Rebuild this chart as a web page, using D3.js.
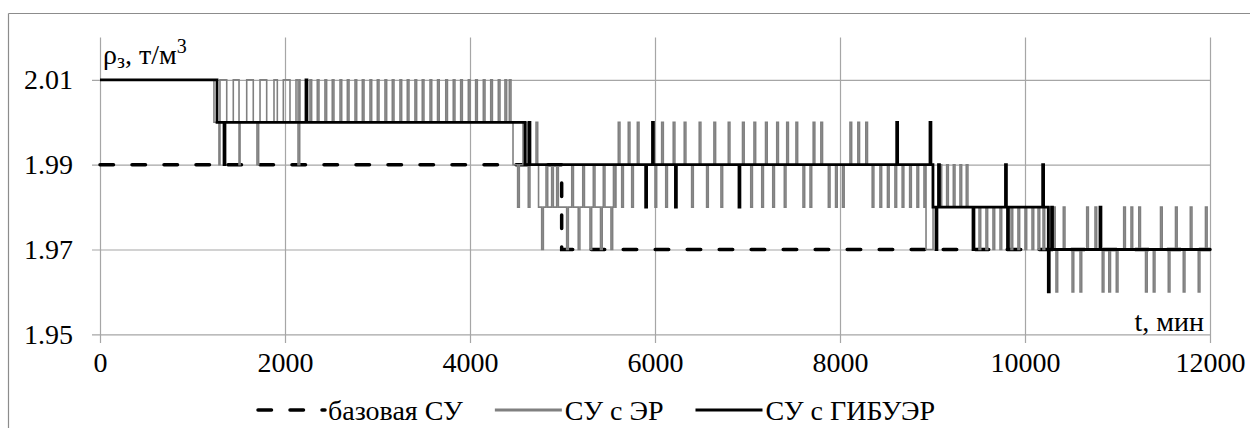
<!DOCTYPE html>
<html>
<head>
<meta charset="utf-8">
<script src="https://cdn.jsdelivr.net/npm/d3@7"></script>
<style>
  body { margin: 0; background: #fff; }
</style>
</head>
<body>
<div class="htmlcontainer"></div>
<script>
// chart size
var width  = 1250;
var height = 428;

// axes
var xTicks  = [0, 2000, 4000, 6000, 8000, 10000, 12000];
var yTicks  = [1.95, 1.97, 1.99, 2.01];
var yDomain = [1.95, 2.02];
var seriesNames = ["базовая СУ", "СУ с ЭР", "СУ с ГИБУЭР"];

// базовая СУ : [t, level] where level changes
var baseSteps = [[0, 1.99], [4991, 1.97]];

// СУ с ЭР : level changes
var erSteps = [
  [0, 2.01], [1232, 2.00], [1297, 2.01], [1370, 2.00], [1441, 2.01], [1514, 2.00],
  [1586, 2.01], [1657, 2.00], [1730, 2.01], [1802, 2.00], [1881, 2.01], [1917, 2.00],
  [1982, 2.01], [2054, 2.00], [2119, 2.01], [2162, 2.00], [4465, 1.99], [4573, 2.00],
  [4616, 1.99], [4741, 1.98], [5578, 1.99], [8930, 1.97], [9006, 1.98], [10260, 1.97]
];
// СУ с ЭР : short pulses [t, level]
var erPulses = [
  [1286, 1.99], [1503, 1.99], [1697, 1.99], [2141, 1.99],
  [2270, 2.01], [2349, 2.01], [2432, 2.01], [2511, 2.01], [2595, 2.01], [2674, 2.01],
  [2757, 2.01], [2836, 2.01], [2919, 2.01], [2998, 2.01], [3081, 2.01], [3160, 2.01],
  [3243, 2.01], [3322, 2.01], [3405, 2.01], [3484, 2.01], [3568, 2.01], [3649, 2.01],
  [3738, 2.01], [3819, 2.01], [3899, 2.01], [3982, 2.01], [4061, 2.01], [4144, 2.01],
  [4224, 2.01], [4306, 2.01], [4378, 2.01], [4425, 2.01],
  [4515, 1.98], [4630, 1.98], [4714, 2.00],
  [4775, 1.97], [4822, 1.99], [4883, 1.99], [4937, 1.99], [5045, 1.97], [5100, 1.99],
  [5170, 1.97], [5219, 1.99], [5297, 1.97], [5333, 1.99], [5411, 1.97], [5441, 1.99],
  [5524, 1.97], [5551, 1.99],
  [5603, 2.00], [5711, 2.00], [5809, 2.00], [6072, 2.00], [6197, 2.00], [6316, 2.00],
  [6478, 2.00], [6637, 2.00], [6792, 2.00], [6946, 2.00], [7070, 2.00], [7195, 2.00],
  [7316, 2.00], [7424, 2.00], [7524, 2.00], [7710, 2.00], [7793, 2.00], [8108, 2.00],
  [8193, 2.00], [8279, 2.00],
  [5640, 1.98], [5748, 1.98], [6000, 1.98], [6116, 1.98], [6396, 1.98], [6558, 1.98],
  [6713, 1.98], [7035, 1.98], [7154, 1.98], [7273, 1.98], [7398, 1.98], [7600, 1.98],
  [7676, 1.98], [7874, 1.98], [7952, 1.98], [8027, 1.98], [8348, 1.98], [8432, 1.98],
  [8513, 1.98], [8594, 1.98], [8672, 1.98], [8753, 1.98], [8832, 1.98], [8908, 1.98],
  [9081, 1.99], [9153, 1.99], [9225, 1.99], [9297, 1.99], [9365, 1.99],
  [9503, 1.97], [9578, 1.97], [9654, 1.97], [9730, 1.97], [9849, 1.97], [9924, 1.97],
  [10000, 1.97], [10076, 1.97], [10141, 1.97], [10195, 1.97],
  [10308, 1.98], [10414, 1.98], [10667, 1.98], [10757, 1.98], [11067, 1.98], [11146, 1.98],
  [11230, 1.98], [11465, 1.98], [11627, 1.98], [11787, 1.98], [11951, 1.98],
  [10335, 1.96], [10509, 1.96], [10595, 1.96], [10835, 1.96], [10906, 1.96], [10987, 1.96],
  [11303, 1.96], [11387, 1.96], [11549, 1.96], [11711, 1.96], [11873, 1.96]
];

// СУ с ГИБУЭР
var gibSteps = [[0, 2.01], [1265, 2.00], [4595, 1.99], [9005, 1.98], [10252, 1.97]];
var gibPulses = [
  [1341, 1.99], [2227, 2.01], [4638, 2.00], [5899, 1.98], [5973, 2.00], [6221, 1.98],
  [6908, 1.98], [8613, 2.00], [8973, 2.00], [9038, 1.97], [9065, 1.99], [9438, 1.97],
  [9789, 1.99], [9811, 1.97], [10191, 1.99], [10252, 1.96], [10287, 1.98], [10811, 1.98]
];

var tEnd = 12000;

// turn level changes + pulses into one step series
function buildSteps(steps, pulses, pw) {
  function levelAt(t) {
    var v = steps[0][1];
    steps.forEach(function(s) { if (s[0] <= t) v = s[1]; });
    return v;
  }
  var ev = steps.map(function(s) { return {t: s[0], v: s[1], o: 0}; });
  pulses.forEach(function(p) {
    ev.push({t: p[0], v: p[1], o: 1});
    ev.push({t: p[0] + pw, v: levelAt(p[0] + pw), o: 0});
  });
  ev.sort(function(a, b) { return a.t - b.t || a.o - b.o; });
  var pts = ev.map(function(e) { return [e.t, e.v]; });
  pts.push([tEnd, pts[pts.length - 1][1]]);
  return pts;
}

var FONT = "Liberation Serif";
var fontSize = 28;

var svg = d3.select(".htmlcontainer").append("svg")
  .attr("width", width)
  .attr("height", height);

// outer frame (top and left edges visible)
svg.append("line").attr("x1", 8.5).attr("x2", width).attr("y1", 13.5).attr("y2", 13.5)
  .attr("stroke", "#8c8c8c").attr("stroke-width", 1.2);
svg.append("line").attr("x1", 8.5).attr("x2", 8.5).attr("y1", 13.5).attr("y2", height)
  .attr("stroke", "#8c8c8c").attr("stroke-width", 1.2);

var x = d3.scaleLinear().domain([0, 12000]).range([100, 1210]);
var y = d3.scaleLinear().domain(yDomain).range([334.3, 37.5]);

// y axis with horizontal gridlines
var yAxis = svg.append("g")
  .attr("transform", "translate(92,0)")
  .call(d3.axisLeft(y).tickValues(yTicks).tickSize(-(1210 - 92)).tickPadding(19)
    .tickFormat(d3.format(".2f")));
yAxis.select(".domain").remove();
yAxis.selectAll("line").attr("stroke", "#a6a6a6").attr("stroke-width", 1.2);
yAxis.selectAll("text").attr("fill", "#000").style("font-family", FONT).style("font-size", fontSize + "px");

// x axis with vertical gridlines
var xAxis = svg.append("g")
  .attr("transform", "translate(0,343)")
  .call(d3.axisBottom(x).tickValues(xTicks).tickSize(-(343 - 37.5)).tickPadding(9)
    .tickFormat(d3.format("d")));
xAxis.select(".domain").remove();
xAxis.selectAll("line").attr("stroke", "#a6a6a6").attr("stroke-width", 1.2);
xAxis.selectAll("text").attr("fill", "#000").style("font-family", FONT).style("font-size", fontSize + "px");

var line = d3.line()
  .x(function(d) { return x(d[0]); })
  .y(function(d) { return y(d[1]); })
  .curve(d3.curveStepAfter);

// series, drawn in legend order
svg.append("path")
  .datum(buildSteps(baseSteps, [], 0))
  .attr("d", line)
  .attr("fill", "none")
  .attr("stroke", "#000")
  .attr("stroke-width", 3.5)
  .attr("stroke-linecap", "round")
  .attr("stroke-dasharray", "13.5,18.5");

svg.append("path")
  .datum(buildSteps(erSteps, erPulses, 18))
  .attr("d", line)
  .attr("fill", "none")
  .attr("stroke", "#808080")
  .attr("stroke-width", 1.6);

svg.append("path")
  .datum(buildSteps(gibSteps, gibPulses, 10))
  .attr("d", line)
  .attr("fill", "none")
  .attr("stroke", "#000")
  .attr("stroke-width", 2.8);

function txt(xp, yp) {
  return svg.append("text").attr("x", xp).attr("y", yp)
    .style("font-family", FONT).style("font-size", fontSize + "px");
}

// axis titles
var yTitle = txt(103, 64);
yTitle.append("tspan").text("ρ");
yTitle.append("tspan").style("font-size", "20px").attr("dy", 4).text("з");
yTitle.append("tspan").attr("dy", -4).text(", т/м");
yTitle.append("tspan").style("font-size", "20px").attr("dy", -11).text("3");

txt(1204, 331).attr("text-anchor", "end").text("t, мин");

// legend
var legendStyles = [
  {stroke: "#000", w: 3.5, dash: "13.5,18.5"},
  {stroke: "#808080", w: 3, dash: null},
  {stroke: "#000", w: 3, dash: null}
];
var lx = 258, ly = 410;
seriesNames.forEach(function(name, i) {
  var st = legendStyles[i];
  var l = svg.append("line")
    .attr("x1", lx).attr("x2", lx + 67).attr("y1", ly).attr("y2", ly)
    .attr("stroke", st.stroke).attr("stroke-width", st.w);
  if (st.dash) l.attr("stroke-dasharray", st.dash).attr("stroke-linecap", "round");
  var t = txt(lx + 70, ly + 9.5).text(name);
  lx = lx + 70 + t.node().getComputedTextLength() + 32;
});
</script>
</body>
</html>
